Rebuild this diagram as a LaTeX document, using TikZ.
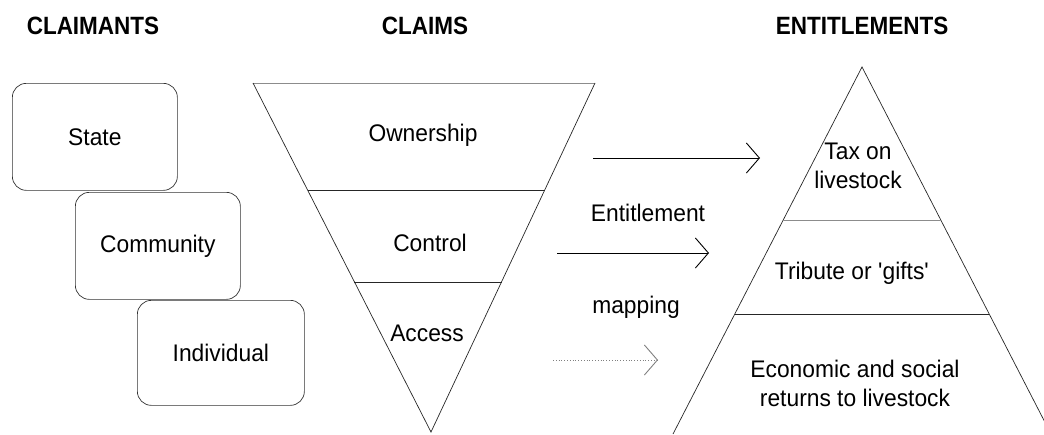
\documentclass[tikz,border=0pt]{standalone}
\usepackage{fontspec}
\setmainfont{Liberation Sans}[FakeStretch=0.95]
\newfontfamily\headfont{Liberation Sans}[FakeStretch=0.9]
\usetikzlibrary{arrows.meta,calc}
\begin{document}
\begin{tikzpicture}[x=1pt,y=-1pt,
  headtext/.style={font=\headfont\fontsize{25}{30}\selectfont\bfseries, inner sep=0pt},
  txt/.style={font=\fontsize{24}{29}\selectfont, align=center, inner sep=0pt},
  claimant/.style={draw=black!80, line width=0.7pt, rounded corners=14pt,
    minimum width=165pt, minimum height=107pt, anchor=north west,
    font=\fontsize{24}{29}\selectfont, inner sep=0pt},
  outline/.style={draw=black!85, line width=0.7pt},
  faint/.style={draw=black!45, line width=0.6pt},
  maparrow/.style={line width=0.9pt,
    -{Straight Barb[length=13pt,width=30pt,line width=0.9pt]}},
  weakarrow/.style={draw=black!50, line width=0.8pt, dotted,
    -{Straight Barb[length=13pt,width=30pt,line width=0.9pt,sep=0pt]}},
]
\useasboundingbox (0,0) rectangle (1044,434);
\clip (0,0) rectangle (1044,434);

% column headings
\node[headtext] (hclaimants) at (93,26) {CLAIMANTS};
\node[headtext] (hclaims) at (425,26) {CLAIMS};
\node[headtext] (hentitle) at (862,26) {ENTITLEMENTS};

% claimants, stacked diagonally
\node[claimant] (state) at (12,83) {State};
\node[claimant] (community) at (75,192) {Community};
\node[claimant, minimum width=167pt, minimum height=105pt] (individual) at (137,300) {Individual};

% claims: inverted triangle
\coordinate (tl) at (253,83);
\coordinate (tr) at (595,83);
\coordinate (vtip) at (431,432);
\draw[faint] (tl) -- (tr);
\draw[outline] (tr) -- (vtip) -- (tl);
\draw[outline] ($(tl)!0.309!(vtip)$) -- ($(tr)!0.309!(vtip)$);
\draw[outline] ($(tl)!0.570!(vtip)$) -- ($(tr)!0.570!(vtip)$);
\node[txt] (ownership) at (423,135) {Ownership};
\node[txt] (control) at (430,243) {Control};
\node[txt] (access) at (427,333) {Access};

% entitlements: pyramid
\coordinate (ptop) at (862,67);
\coordinate (pbl) at (673,434);
\coordinate (pbr) at (1051,434);
\draw[outline] (pbl) -- (ptop) -- (pbr);
\draw[faint] ($(ptop)!0.417!(pbl)$) -- ($(ptop)!0.417!(pbr)$);
\draw[outline] ($(ptop)!0.673!(pbl)$) -- ($(ptop)!0.673!(pbr)$);
\node[txt] (tax) at (858,166) {Tax on\\livestock};
\node[txt] (tribute) at (852,273) {Tribute or \textquotesingle gifts\textquotesingle};
\node[txt] (returns) at (855,383) {Economic and social\\returns to livestock};

% entitlement mapping arrows
\coordinate (a1s) at (593,158);
\coordinate (a1e) at (760,158);
\coordinate (a2s) at (557,253);
\coordinate (a2e) at (709,253);
\coordinate (a3s) at (553,360);
\coordinate (a3e) at (658,360);
\draw[maparrow] (a1s) -- (a1e);
\draw[maparrow] (a2s) -- (a2e);
\draw[weakarrow] (a3s) -- (a3e);
\node[txt] (entl) at (648,213) {Entitlement};
\node[txt] (mapl) at (636,307) {mapping};
\end{tikzpicture}
\end{document}
